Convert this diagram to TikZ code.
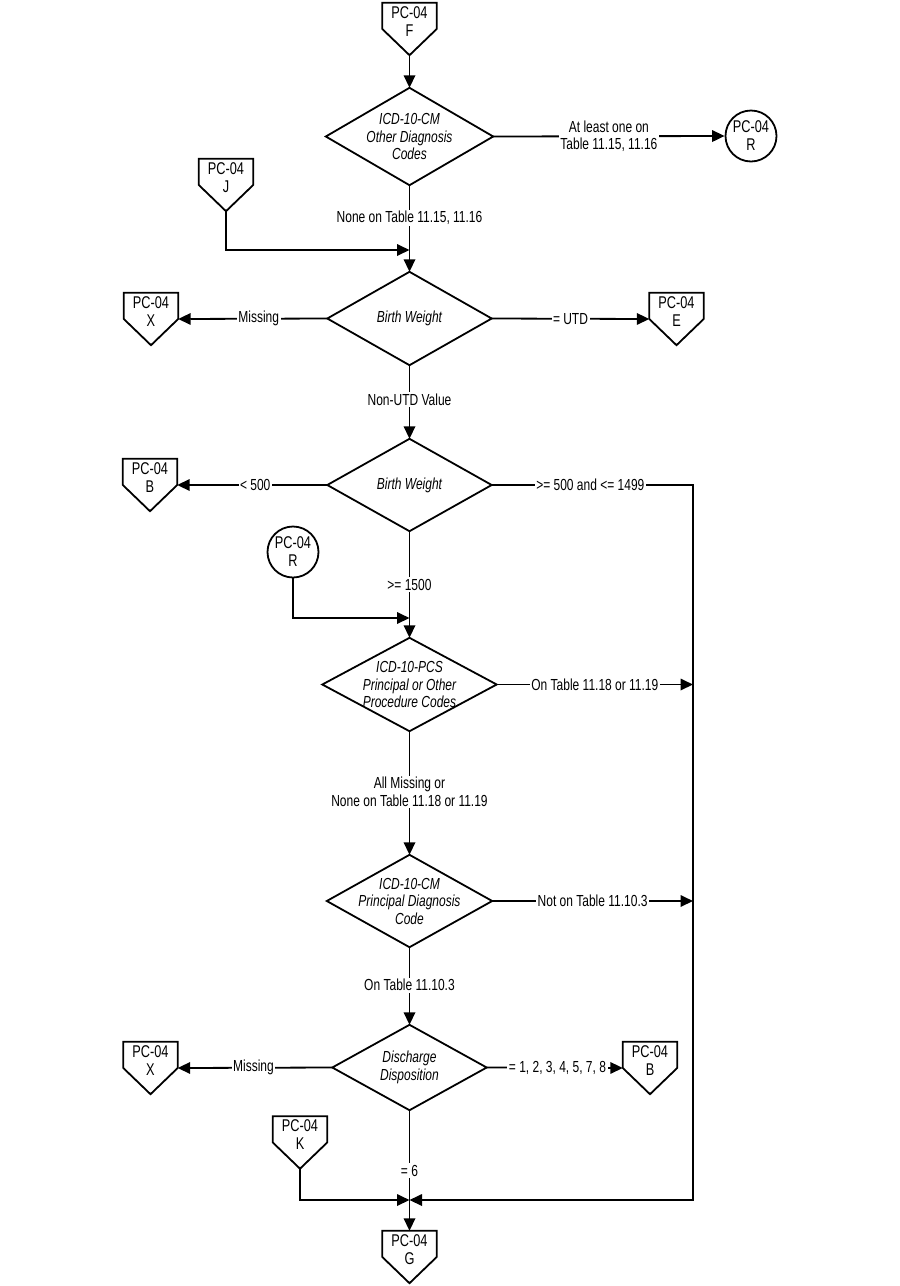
\documentclass[tikz,border=0pt]{standalone}
\usepackage{fontspec}
\setmainfont[FakeStretch=0.75]{Liberation Sans}
\usetikzlibrary{arrows.meta}
\newcommand\pcf[1]{\raisebox{1pt}[0pt][0pt]{\begin{tabular}{@{}c@{}}PC-04\\#1\end{tabular}}}
\begin{document}
\begin{tikzpicture}[x=1pt,y=-1pt,
  every node/.style={font=\fontsize{16}{17.5}\selectfont},
  ln/.style={line width=1.8pt},
  arr/.style={ln,-{Triangle[length=12.5pt,width=11.5pt]}},
  offpg/.style={minimum width=54pt,minimum height=52pt,inner sep=0pt,font=\fontsize{17}{18}\selectfont},
  dec/.style={inner sep=0pt,align=center,font=\fontsize{16}{17.5}\selectfont\itshape},
  circ/.style={circle,draw,ln,minimum size=51pt,inner sep=0pt,align=center,font=\fontsize{17}{18}\selectfont},
  lbl/.style={fill=white,inner sep=1.5pt,align=center},
]
\fill[white] (0,0) rectangle (900,1286);
\useasboundingbox (0,0) rectangle (900,1286);

% off-page connectors
\node[offpg] (F)  at (409.5,29)   {\pcf{F}};
\node[offpg] (J)  at (226,185)    {\pcf{J}};
\node[offpg] (X1) at (151,319)    {\pcf{X}};
\node[offpg] (E)  at (676.5,319)  {\pcf{E}};
\node[offpg] (B1) at (150,485)    {\pcf{B}};
\node[offpg] (X2) at (150.5,1068) {\pcf{X}};
\node[offpg] (B2) at (650,1068)   {\pcf{B}};
\node[offpg] (K)  at (300,1142.5) {\pcf{K}};
\node[offpg] (G)  at (409.5,1257) {\pcf{G}};
\foreach \n in {F,J,X1,E,B1,X2,B2,K,G}
  \draw[ln,line join=miter] (\n.north west) -- (\n.north east) -- (\n.east) -- (\n.south) -- (\n.west) -- cycle;

% circles
\node[circ] (R1) at (751,136) {PC-04\\R};
\node[circ] (R2) at (293,552) {PC-04\\R};

% decisions
\node[dec,minimum width=167pt,minimum height=97pt] (d1) at (409.5,136.5) {ICD-10-CM\\Other Diagnosis\\Codes};
\node[dec,minimum width=164pt,minimum height=93pt] (d2) at (409.5,318.5) {Birth Weight};
\node[dec,minimum width=164pt,minimum height=92pt] (d3) at (409.5,485) {Birth Weight};
\node[dec,minimum width=174pt,minimum height=93pt] (d4) at (409.5,684.5) {ICD-10-PCS\\Principal or Other\\Procedure Codes};
\node[dec,minimum width=165pt,minimum height=92pt] (d5) at (409.5,901) {ICD-10-CM\\Principal Diagnosis\\Code};
\node[dec,minimum width=154pt,minimum height=85pt] (d6) at (409.5,1067.5) {Discharge\\Disposition};
\foreach \n in {d1,d2,d3,d4,d5,d6}
  \draw[ln,line join=miter] (\n.north) -- (\n.east) -- (\n.south) -- (\n.west) -- cycle;

% junction coordinates
\coordinate (jm)  at (409.5,250);
\coordinate (rm)  at (409.5,618);
\coordinate (mg)  at (409.5,1200);
\coordinate (rt1) at (693,485);
\coordinate (rt2) at (693,684.5);
\coordinate (rt3) at (693,901);
\coordinate (rt4) at (693,1200);

% connectors
\draw[arr] (F.south) -- (d1.north);
\draw[arr] (d1.east) -- node[lbl]{At least one on\\Table 11.15, 11.16} (R1.west);
\draw[arr] (d1.south) -- node[lbl,pos=0.38]{None on Table 11.15, 11.16} (d2.north);
\draw[arr] (J.south) |- (jm);
\draw[arr] (d2.west) -- node[lbl,pos=0.46]{Missing} (X1.east);
\draw[arr] (d2.east) -- node[lbl]{= UTD} (E.west);
\draw[arr] (d2.south) -- node[lbl,pos=0.47]{Non-UTD Value} (d3.north);
\draw[arr] (d3.west) -- node[lbl,pos=0.48]{< 500} (B1.east);
\draw[arr] (d3.east) -- node[lbl,pos=0.49]{>= 500 and <= 1499} (rt1) -- (rt4) -- (mg);
\draw[arr] (d3.south) -- node[lbl]{>= 1500} (d4.north);
\draw[arr] (R2.south) |- (rm);
\draw[arr] (d4.east) -- node[lbl]{On Table 11.18 or 11.19} (rt2);
\draw[arr] (d4.south) -- node[lbl,pos=0.49]{All Missing or\\None on Table 11.18 or 11.19} (d5.north);
\draw[arr] (d5.east) -- node[lbl]{Not on Table 11.10.3} (rt3);
\draw[arr] (d5.south) -- node[lbl,pos=0.49]{On Table 11.10.3} (d6.north);
\draw[arr] (d6.west) -- node[lbl,pos=0.51]{Missing} (X2.east);
\draw[arr] (d6.east) -- node[lbl,pos=0.52]{= 1, 2, 3, 4, 5, 7, 8} (B2.west);
\draw[arr] (d6.south) -- node[lbl]{= 6} (G.north);
\draw[arr] (K.south) |- (mg);
\end{tikzpicture}
\end{document}
